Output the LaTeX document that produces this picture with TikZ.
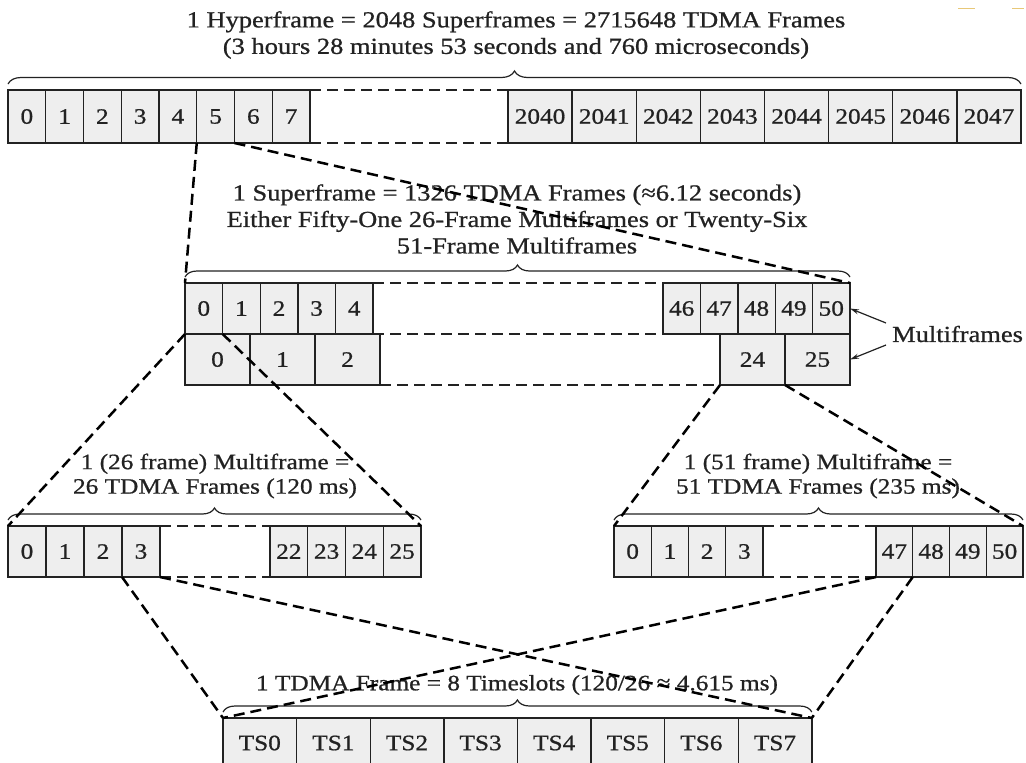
\documentclass[tikz,border=0pt]{standalone}
\usepackage{fontspec}
\setmainfont[FakeStretch=1.15,FakeBold=0.8]{Liberation Serif}
\usetikzlibrary{decorations.pathreplacing,arrows.meta}
\definecolor{boxfill}{HTML}{EEEEEE}
\definecolor{ink}{HTML}{222222}
\definecolor{orangemark}{HTML}{E8C878}
\begin{document}
\begin{tikzpicture}[x=1pt,y=-1pt,
  fr/.style={draw=ink, fill=boxfill, line width=1.4pt, inner sep=0pt, outer sep=0pt, anchor=north west, font=\fontsize{22}{22}\selectfont, text=ink},
  gap/.style={draw=ink, line width=1.2pt, dash pattern=on 11pt off 6pt},
  conn/.style={draw=black, line width=2.5pt, dash pattern=on 11pt off 6pt},
  brc/.style={draw=ink, line width=1.2pt, decorate, decoration={brace, amplitude=#1}},
  lbl/.style={align=center, text=ink, font=\fontsize{23}{26.5}\selectfont, inner sep=0pt},
  lbls/.style={align=center, text=ink, font=\fontsize{22}{24.5}\selectfont, inner sep=0pt},
  arr/.style={draw=ink, line width=1.2pt, -{Stealth[length=9pt,width=5pt]}}
]
\useasboundingbox (0,0) rectangle (1026,763);
\clip (0,0) rectangle (1026,763);
\fill[white] (0,0) rectangle (1026,763);
\draw[orangemark, line width=1pt] (958,8) -- (975,8);
\draw[orangemark, line width=1pt] (1012,8) -- (1024,8);

% ---- Hyperframe ----
\foreach \i in {0,...,7} {
  \node[fr, minimum width=37.75pt, minimum height=53pt] (h\i) at ({8+37.75*\i},90) {\i};
}
\foreach \i in {2040,...,2047} {
  \node[fr, minimum width=64.125pt, minimum height=53pt] (h\i) at ({508+64.125*(\i-2040)},90) {\i};
}
\draw[gap] (h7.north east) -- (h2040.north west);
\draw[gap] (h7.south east) -- (h2040.south west);
\draw[brc=13pt] ([yshift=6pt]h0.north west) -- ([yshift=6pt]h2047.north east);
\node[lbl] (tH) at (516,35) {1 Hyperframe = 2048 Superframes = 2715648 TDMA Frames\\(3 hours 28 minutes 53 seconds and 760 microseconds)};

% ---- Superframe ----
\foreach \i in {0,...,4} {
  \node[fr, minimum width=37.6pt, minimum height=51pt] (s\i) at ({185+37.6*\i},283) {\i};
}
\foreach \i in {46,...,50} {
  \node[fr, minimum width=37.4pt, minimum height=51pt] (s\i) at ({663+37.4*(\i-46)},283) {\i};
}
\draw[gap] (s4.north east) -- (s46.north west);
\draw[gap] (s4.south east) -- (s46.south west);
\foreach \i in {0,1,2} {
  \node[fr, minimum width=65pt, minimum height=51pt] (m\i) at ({185+65*\i},334) {\i};
}
\foreach \i in {24,25} {
  \node[fr, minimum width=65pt, minimum height=51pt] (m\i) at ({720+65*(\i-24)},334) {\i};
}
\draw[gap] (m2.south east) -- (m24.south west);
\draw[brc=12pt] ([yshift=6pt]s0.north west) -- ([yshift=6pt]s50.north east);
\node[lbl] (tS) at (517,219) {1 Superframe = 1326 TDMA Frames (≈6.12 seconds)\\Either Fifty-One 26-Frame Multiframes or Twenty-Six\\51-Frame Multiframes};
\node[lbl, anchor=west] (mf) at (892,334) {Multiframes};
\draw[arr] ([xshift=-6pt,yshift=11pt]mf.west) -- (s50.east);
\draw[arr] ([xshift=-6pt,yshift=-11pt]mf.west) -- (m25.east);

% ---- 26-frame multiframe ----
\foreach \i in {0,...,3} {
  \node[fr, minimum width=38pt, minimum height=51pt] (a\i) at ({8+38*\i},526) {\i};
}
\foreach \i in {22,...,25} {
  \node[fr, minimum width=37.75pt, minimum height=51pt] (a\i) at ({270+37.75*(\i-22)},526) {\i};
}
\draw[gap] (a3.north east) -- (a22.north west);
\draw[gap] (a3.south east) -- (a22.south west);
\draw[brc=12pt] ([yshift=6pt]a0.north west) -- ([yshift=6pt]a25.north east);
\node[lbls] (tA) at (215,476) {1 (26 frame) Multiframe =\\26 TDMA Frames (120 ms)};

% ---- 51-frame multiframe ----
\foreach \i in {0,...,3} {
  \node[fr, minimum width=37.25pt, minimum height=51pt] (b\i) at ({614+37.25*\i},526) {\i};
}
\foreach \i in {47,...,50} {
  \node[fr, minimum width=36.75pt, minimum height=51pt] (b\i) at ({876+36.75*(\i-47)},526) {\i};
}
\draw[gap] (b3.north east) -- (b47.north west);
\draw[gap] (b3.south east) -- (b47.south west);
\draw[brc=12pt] ([yshift=6pt]b0.north west) -- ([yshift=6pt]b50.north east);
\node[lbls] (tB) at (818,476) {1 (51 frame) Multiframe =\\51 TDMA Frames (235 ms)};

% ---- TDMA frame ----
\foreach \i in {0,...,7} {
  \node[fr, minimum width=73.6pt, minimum height=50pt] (ts\i) at ({223+73.6*\i},718) {TS\i};
}
\draw[brc=12pt] ([yshift=6pt]ts0.north west) -- ([yshift=6pt]ts7.north east);
\node[lbls] (tT) at (517,685) {1 TDMA Frame = 8 Timeslots (120/26 ≈ 4.615 ms)};

% ---- connectors ----
\draw[conn] (h5.south west) -- (s0.north west);
\draw[conn] (h5.south east) -- (s50.north east);
\draw[conn] (s0.south west) -- (a0.north west);
\draw[conn] (s0.south east) -- (a25.north east);
\draw[conn] (m24.south west) -- (b0.north west);
\draw[conn] (m24.south east) -- (b50.north east);
\draw[conn] (a2.south east) -- (ts0.north west);
\draw[conn] (a3.south east) -- (ts7.north east);
\draw[conn] (b47.south west) -- (ts0.north west);
\draw[conn] (b47.south east) -- (ts7.north east);
\end{tikzpicture}
\end{document}
